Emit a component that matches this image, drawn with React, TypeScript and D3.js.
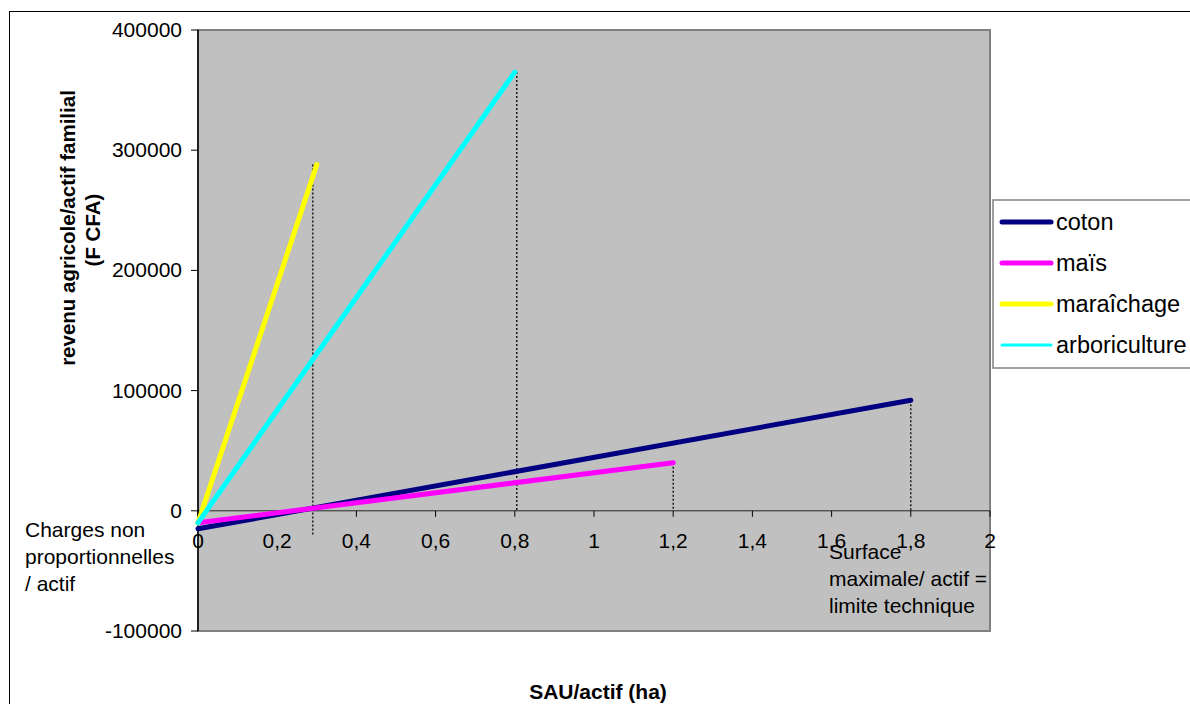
import React from "react";
import * as d3 from "d3";

const seriesNames = ["coton", "maïs", "maraîchage", "arboriculture"];
const seriesColors = ["#000080", "#FF00FF", "#FFFF00", "#00FFFF"];
const xStart = [0, 0, 0, 0];
const yStart = [-15000, -10000, -10000, -10000];
const xEnd = [1.8, 1.2, 0.3, 0.8];
const yEnd = [92000, 40000, 288000, 365000];
const dropX = [1.8, 1.2, 0.29, 0.805];
const dropTop = [92000, 40000, 288000, 365000];
const dropBottom = [0, 0, -20000, 0];
const xTicks = [0, 0.2, 0.4, 0.6, 0.8, 1, 1.2, 1.4, 1.6, 1.8, 2];
const yTicks = [-100000, 0, 100000, 200000, 300000, 400000];

const W = 1190;
const H = 704;
const left = 198, right = 990, top = 30, bottom = 631;
const FONT = "Arial, 'Liberation Sans', sans-serif";

export default function App() {
  const x = d3.scaleLinear().domain([0, 2]).range([left, right]);
  const y = d3.scaleLinear().domain([-100000, 400000]).range([bottom, top]);
  const fmtX = (v: number) => String(v).replace(".", ",");
  const line = d3.line<[number, number]>().x((d) => x(d[0])).y((d) => y(d[1]));
  const legendY = [222, 263, 304, 345];

  return (
    <svg width={W} height={H} style={{ position: "fixed", left: 0, top: 0, background: "#fff" }} fontFamily={FONT}>
      <rect x={9.5} y={11.5} width={1200} height={720} fill="#fff" stroke="#000" strokeWidth={1} />
      <rect x={left} y={top} width={right - left} height={bottom - top} fill="#C0C0C0" stroke="#808080" strokeWidth={2} />
      {/* y axis */}
      <line x1={left} x2={left} y1={top} y2={bottom} stroke="#000" strokeWidth={1.5} />
      {yTicks.map((t) => (
        <g key={t}>
          <line x1={left - 7} x2={left} y1={y(t)} y2={y(t)} stroke="#000" />
          <text x={182} y={y(t) + 7} textAnchor="end" fontSize={21}>{t}</text>
        </g>
      ))}
      {/* x axis at 0 */}
      <line x1={left} x2={right} y1={y(0)} y2={y(0)} stroke="#000" strokeWidth={1} opacity={0.8} />
      {xTicks.map((t) => (
        <g key={t}>
          <line x1={x(t)} x2={x(t)} y1={y(0)} y2={y(0) + 6} stroke="#000" />
          <text x={x(t)} y={y(0) + 37} textAnchor="middle" fontSize={21}>{fmtX(t)}</text>
        </g>
      ))}
      {/* drop lines */}
      {dropX.map((dx, i) => (
        <line key={i} x1={x(dx)} x2={x(dx)} y1={y(dropTop[i])} y2={y(dropBottom[i])} stroke="#000" strokeWidth={1.3} strokeDasharray="2,2" />
      ))}
      {/* series */}
      {seriesNames.map((n, i) => (
        <path key={n} d={line([[xStart[i], yStart[i]], [xEnd[i], yEnd[i]]]) || ""} stroke={seriesColors[i]} strokeWidth={5} strokeLinecap="round" fill="none" />
      ))}
      {/* legend */}
      <rect x={993} y={200} width={205} height={168} fill="#fff" stroke="#808080" strokeWidth={1.5} />
      {seriesNames.map((n, i) => (
        <g key={n}>
          <line x1={1002} x2={1051} y1={legendY[i]} y2={legendY[i]} stroke={seriesColors[i]} strokeWidth={i === 3 ? 3 : 5} strokeLinecap="round" />
          <text x={1056} y={legendY[i] + 8} fontSize={23.5}>{n}</text>
        </g>
      ))}
      {/* annotations */}
      <text fontSize={21} x={25}>
        <tspan x={25} y={537}>Charges non</tspan>
        <tspan x={25} y={564}>proportionnelles</tspan>
        <tspan x={25} y={591}>/ actif</tspan>
      </text>
      <text fontSize={21} x={829}>
        <tspan x={829} y={559}>Surface</tspan>
        <tspan x={829} y={586}>maximale/ actif =</tspan>
        <tspan x={829} y={613}>limite technique</tspan>
      </text>
      {/* axis titles */}
      <text transform="translate(75,228) rotate(-90)" textAnchor="middle" fontSize={20.5} fontWeight="bold">revenu agricole/actif familial</text>
      <text transform="translate(100,230) rotate(-90)" textAnchor="middle" fontSize={20.5} fontWeight="bold">(F CFA)</text>
      <text x={598} y={699} textAnchor="middle" fontSize={21} fontWeight="bold">SAU/actif (ha)</text>
    </svg>
  );
}
